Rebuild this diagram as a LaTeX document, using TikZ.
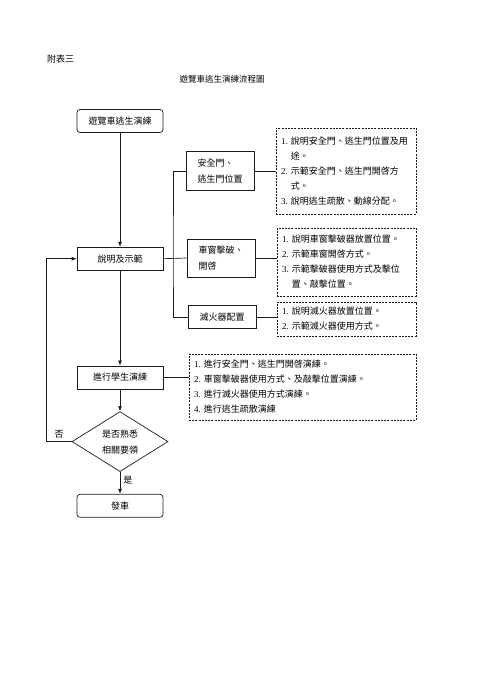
\documentclass[tikz,border=0pt]{standalone}
\usepackage{fontspec}
\setmainfont{Liberation Serif}
\newfontfamily\cjk{Noto Sans CJK TC}
\usetikzlibrary{arrows.meta, positioning, shapes.geometric}
\definecolor{InkBlack}{HTML}{1A1A1A}
\newcommand{\itemno}[1]{{\rmfamily #1}~}
\tikzset{
  box/.style={draw=InkBlack, line width=0.7pt, align=center, minimum width=86pt, minimum height=23pt, inner sep=3pt, font=\cjk\fontsize{9}{16}\selectfont},
  roundbox/.style={box, rounded corners=3pt},
  sidebox/.style={box, align=left, minimum width=68pt},
  dotbox/.style={draw=InkBlack, line width=0.7pt, dash pattern=on 2pt off 1.2pt, align=left, inner sep=5pt, font=\cjk\fontsize{9}{15}\selectfont},
  decision/.style={diamond, draw=InkBlack, line width=0.7pt, aspect=1.6, minimum width=96pt, minimum height=60pt, inner sep=0pt, align=center, font=\cjk\fontsize{9}{16}\selectfont},
  arrow/.style={-{Latex[length=5pt,width=4pt]}, line width=0.7pt, draw=InkBlack},
  link/.style={line width=0.7pt, draw=InkBlack},
  note/.style={font=\cjk\fontsize{9}{11}\selectfont, inner sep=1pt}
}
\begin{document}
\begin{tikzpicture}[x=1pt, y=-1pt]
\useasboundingbox (0,0) rectangle (495,700);
% header
\node[note, anchor=west] (annex) at (46,59) {附表三};
\node[note, font=\cjk\fontsize{8.5}{11}\selectfont] (title) at (222,79) {遊覽車逃生演練流程圖};
% main column
\node[roundbox] (start) at (120,121) {遊覽車逃生演練};
\node[box, below=114pt of start] (explain) {說明及示範};
\node[box, below=95pt of explain] (drill) {進行學生演練};
\node[decision, below=22pt of drill] (check) {是否熟悉\\相關要領};
\node[roundbox, below=22pt of check] (depart) {發車};
% branch boxes
\node[sidebox, minimum height=39pt] (exits) at (220,171) {安全門、\\逃生門位置};
\node[sidebox, minimum height=38pt] (window) at (221,258) {車窗擊破、\\開啓};
\node[sidebox] (fire) at (222,317) {滅火器配置};
\coordinate (split) at (173,258);
% detail boxes
\node[dotbox, text width=130pt, minimum height=86pt] (exitsnote) at (346,171) {\itemno{1.}說明安全門、逃生門位置及用\\\phantom{\itemno{1.}}途。\\\itemno{2.}示範安全門、逃生門開啓方\\\phantom{\itemno{2.}}式。\\\itemno{3.}說明逃生疏散、動線分配。};
\node[dotbox, text width=129pt, minimum height=68pt] (windownote) at (346.5,262) {\itemno{1.}說明車窗擊破器放置位置。\\\itemno{2.}示範車窗開啓方式。\\\itemno{3.}示範擊破器使用方式及擊位\\\phantom{\itemno{3.}}置、敲擊位置。};
\node[dotbox, text width=129pt, minimum height=34pt] (firenote) at (346.5,319) {\itemno{1.}說明滅火器放置位置。\\\itemno{2.}示範滅火器使用方式。};
\node[dotbox, text width=217pt, minimum height=66pt] (drillnote) at (302.5,387) {\itemno{1.}進行安全門、逃生門開啓演練。\\\itemno{2.}車窗擊破器使用方式、及敲擊位置演練。\\\itemno{3.}進行滅火器使用方式演練。\\\itemno{4.}進行逃生疏散演練};
% connectors
\draw[arrow] (start) -- (explain);
\draw[arrow] (explain) -- (drill);
\draw[arrow] (drill) -- (check);
\draw[arrow] (check) -- node[note, right=2pt, pos=0.4] {是} (depart);
\draw[arrow] (check.west) -- node[note, above=2pt] {否} ++(-25,0) |- (explain.west);
\draw[link] (explain.east) -- (window.west);
\draw[link] (exits.west) -| (split) |- (fire.west);
\draw[link] (exits.east) -- (exits.east -| exitsnote.west);
\draw[link] (window.east) -- (window.east -| windownote.west);
\draw[link] (fire.east) -- (fire.east -| firenote.west);
\draw[link] (drill.east) -- (drill.east -| drillnote.west);
\end{tikzpicture}
\end{document}
